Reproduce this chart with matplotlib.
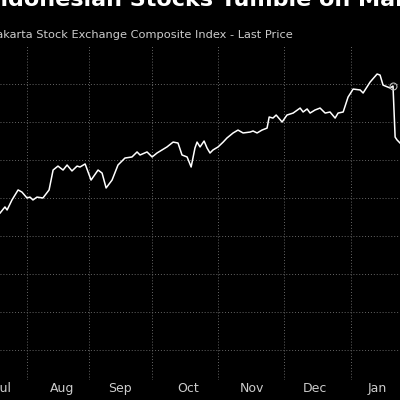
import matplotlib
matplotlib.use("Agg")
import matplotlib.pyplot as plt

# days since Aug 1
days = [-12.7,-10.4,-9.4,-7.1,-4.2,-2.4,0,1.4,2.8,4.7,7.5,10.4,12.3,14.6,17,18.9,21.2,23.6,25,27.4,30.2,33.5,35.4,37.3,40.1,42.9,46.2,49.5,51.9,53.3,56.6,59,61.3,66,68.9,71.2,73.1,75.5,77.4,79.2,80.2,81.6,83.5,84.9,86.3,87.7,90.1,92.5,94.3,97.2,99.5,101.9,105.2,106.6,108.5,110.8,113.2,114.2,116,117.5,120.3,122.6,125.5,128.8,130.2,132.1,133.5,135.8,138.2,140.6,142.9,145.3,146.7,149.1,151.4,153.8,157.1,158.5,161.8,165.1,166.5,167.9,171.2,172.6,173.6,174.5,175.9]
values = [8151,8191,8171,8237,8303,8289,8250,8256,8237,8256,8250,8303,8434,8460,8434,8467,8428,8460,8454,8474,8368,8434,8414,8316,8368,8467,8513,8520,8553,8533,8553,8520,8546,8586,8618,8612,8533,8520,8454,8579,8618,8586,8625,8579,8546,8566,8586,8618,8645,8678,8697,8678,8684,8691,8678,8697,8710,8783,8776,8796,8750,8796,8809,8842,8816,8836,8809,8829,8842,8809,8816,8776,8809,8816,8914,8967,8961,8941,9013,9066,9059,8993,8974,8987,8651,8632,8612]
month_starts = [0, 29, 59, 90, 121, 153]
month_labels = ["Jul", "Aug", "Sep", "Oct", "Nov", "Dec", "Jan"]
label_pos = [-11, 16.5, 43.9, 76, 106, 136, 165]
yticks = [7250, 7500, 7750, 8000, 8250, 8500, 8750, 9000]

fig = plt.figure(figsize=(4, 4), dpi=100, facecolor="black")
ax = fig.add_axes([0, 0.05, 1, 0.8375])
ax.set_facecolor("black")
ax.plot(days, values, color="white", lw=1.1)
ax.plot([days[-4]], [values[-4]], marker="o", mfc="none", mec="#bbbbbb", ms=5, mew=0.8)
ax.set_xlim(-12.74, 175.9)
ax.set_ylim(7052, 9257)
ax.set_xticks(month_starts)
ax.set_yticks(yticks)
ax.tick_params(length=0, labelbottom=False, labelleft=False)
ax.grid(True, color="#666666", ls=(0, (1, 2)), lw=0.7)
for s in ax.spines.values():
    s.set_visible(False)
for p, l in zip(label_pos, month_labels):
    ax.text(p, 7052 - 15, l, color="#cccccc", fontsize=9, ha="center", va="top")
fig.text(-0.04, 1.0, "Indonesian Stocks Tumble on Market", color="white",
         fontsize=16, fontweight="bold", ha="left", va="center")
fig.text(-0.017, 0.912, "Jakarta Stock Exchange Composite Index - Last Price",
         color="#cccccc", fontsize=8.2, ha="left", va="center")
fig.savefig("out.png", facecolor="black")
